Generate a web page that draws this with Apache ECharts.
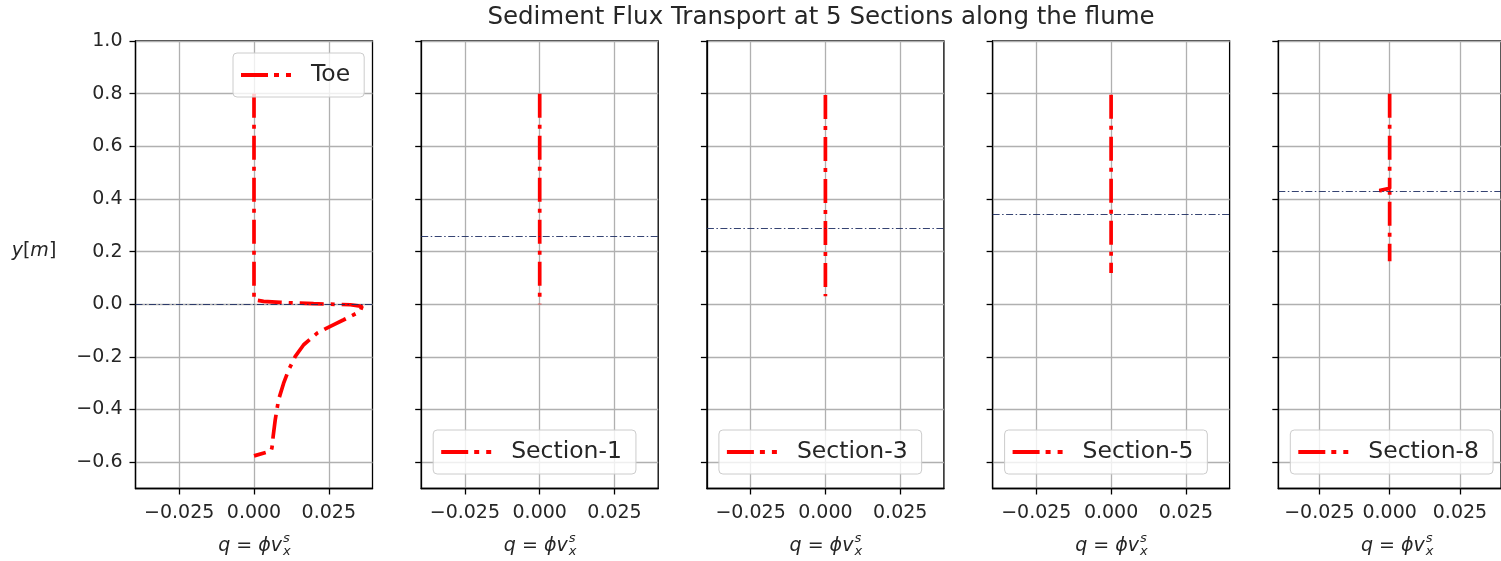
<!DOCTYPE html>
<html><head><meta charset="utf-8">
<script src="https://cdn.jsdelivr.net/npm/echarts@6/dist/echarts.min.js"></script>
<style>html,body{margin:0;padding:0;background:#fff}#c{width:1501px;height:561px}</style>
</head><body><div id="c"></div>
<script>
// ---- data ----
const panelNames = ['Toe', 'Section-1', 'Section-3', 'Section-5', 'Section-8'];
const toeQ = [0, 0, 0, 0, 0, 0.0032, 0.0088, 0.0199, 0.0322, 0.0361, 0.0355, 0.030, 0.0255, 0.0211, 0.0166, 0.0138, 0.0116, 0.0099, 0.0082, 0.0071, 0.0064, 0.0060, 0.0057, 0];
const toeY = [0.8, 0.6, 0.4, 0.2, 0.017, 0.011, 0.007, 0.002, -0.002, -0.008, -0.027, -0.059, -0.084, -0.11, -0.154, -0.198, -0.249, -0.30, -0.363, -0.439, -0.502, -0.545, -0.557, -0.576];
const sec1Q = [0, 0, 0, 0, 0];
const sec1Y = [0.8, 0.6, 0.4, 0.2, 0.0];
const sec3Q = [0, 0, 0, 0, 0];
const sec3Y = [0.795, 0.6, 0.4, 0.2, 0.03];
const sec5Q = [0, 0, 0, 0, 0];
const sec5Y = [0.796, 0.6, 0.4, 0.2, 0.119];
const sec8Q = [0, 0, -0.0037, 0, 0];
const sec8Y = [0.8, 0.44, 0.432, 0.428, 0.163];
const levelY = [-0.003, 0.258, 0.292, 0.340, 0.426];
const xTickValues = [-0.025, 0, 0.025];
const xTickLabels = ['\u22120.025', '0.000', '0.025'];
const yTickValues = [-0.6, -0.4, -0.2, 0, 0.2, 0.4, 0.6, 0.8, 1.0];
const yTickLabels = ['\u22120.6', '\u22120.4', '\u22120.2', '0.0', '0.2', '0.4', '0.6', '0.8', '1.0'];
const titleText = 'Sediment Flux Transport at 5 Sections along the flume';

const Qs = [toeQ, sec1Q, sec3Q, sec5Q, sec8Q];
const Ys = [toeY, sec1Y, sec3Y, sec5Y, sec8Y];

// ---- layout ----
const FONT = 'DejaVu Sans';
const GL = 135.5, GSTEP = 285.7, GW = 237, GT = 41, GH = 447.5;
const XMIN = -0.0396, XMAX = 0.0396, YMIN = -0.7, YMAX = 1.0;

function lab(values, labels) {
  return v => { const k = values.findIndex(t => Math.abs(t - v) < 1e-9); return k >= 0 ? labels[k] : ''; };
}
const legendIcon = 'path://M0 0H27V4H0Z M33 0H38V4H33Z M45 0H50V4H45Z';

const grids = [], xAxes = [], yAxes = [], series = [], legends = [], graphics = [];
for (let i = 0; i < 5; i++) {
  const left = GL + i * GSTEP;
  grids.push({ left: left, top: GT, width: GW, height: GH, show: true, borderColor: '#000', borderWidth: 1.3, backgroundColor: 'transparent', containLabel: false });
  xAxes.push({
    type: 'value', gridIndex: i, min: XMIN, max: XMAX,
    axisLine: { show: true, onZero: false, lineStyle: { color: '#000', width: 1.3 } },
    axisTick: { show: true, customValues: xTickValues, length: 6, lineStyle: { color: '#000', width: 1.3 } },
    axisLabel: { show: true, customValues: xTickValues, formatter: lab(xTickValues, xTickLabels), margin: 15, fontFamily: FONT, fontSize: 19, color: '#262626' },
    splitLine: { show: true, lineStyle: { color: '#b0b0b0', width: 1.3 } }
  });
  yAxes.push({
    type: 'value', gridIndex: i, min: YMIN, max: YMAX,
    axisLine: { show: true, onZero: false, lineStyle: { color: '#000', width: 1.3 } },
    axisTick: { show: true, customValues: yTickValues, length: 6, lineStyle: { color: '#000', width: 1.3 } },
    axisLabel: { show: i === 0, customValues: yTickValues, formatter: lab(yTickValues, yTickLabels), margin: 13, fontFamily: FONT, fontSize: 19, color: '#262626' },
    splitLine: { show: true, lineStyle: { color: '#b0b0b0', width: 1.3 } }
  });
  series.push({
    type: 'line', name: panelNames[i], xAxisIndex: i, yAxisIndex: i,
    data: Qs[i].map((q, k) => [q, Ys[i][k]]),
    symbol: 'none', z: 3, animation: false,
    itemStyle: { color: '#ff0000' },
    lineStyle: { color: '#ff0000', width: 3.7, type: [24, 7, 4, 7], cap: 'butt' },
    markLine: {
      silent: true, symbol: ['none', 'none'], label: { show: false }, animation: false,
      lineStyle: { color: '#1f2f63', width: 1.2, type: [7, 2.5, 1.5, 2.5], opacity: 0.9 },
      data: [{ yAxis: levelY[i] }]
    }
  });
  legends.push({
    data: [panelNames[i]], selectedMode: false, orient: 'horizontal',
    left: i === 0 ? 233 : left + 12, top: i === 0 ? 53 : 430,
    icon: legendIcon, itemWidth: 50, itemHeight: 4,
    itemStyle: { color: '#ff0000', borderWidth: 0 },
    padding: [8, 14, 8, 8],
    backgroundColor: 'rgba(255,255,255,0.8)', borderColor: '#cccccc', borderWidth: 1, borderRadius: 4,
    textStyle: { fontFamily: FONT, fontSize: 23.5, color: '#262626', padding: [0, 0, 0, 15], lineHeight: 28 }
  });
  const cx = left + GW / 2;
  graphics.push({
    type: 'group', x: cx, y: 546, children: [
      { type: 'text', x: 28, y: 0, style: { text: '{i|q}{n| = }{i|\u03D5v}', align: 'right', verticalAlign: 'middle',
        rich: { i: { fontFamily: FONT, fontStyle: 'italic', fontSize: 19, fill: '#262626' }, n: { fontFamily: FONT, fontSize: 19, fill: '#262626' } } } },
      { type: 'text', x: 29, y: -7, style: { text: 's', align: 'left', verticalAlign: 'middle', fontFamily: FONT, fontStyle: 'italic', fontSize: 13, fill: '#262626' } },
      { type: 'text', x: 29, y: 6, style: { text: 'x', align: 'left', verticalAlign: 'middle', fontFamily: FONT, fontStyle: 'italic', fontSize: 13, fill: '#262626' } }
    ]
  });
}
graphics.push({ type: 'text', x: 821, y: 18, style: { text: titleText, align: 'center', verticalAlign: 'middle', fontFamily: FONT, fontSize: 24.5, fill: '#262626' } });
graphics.push({ type: 'text', x: 34, y: 251, style: { text: '{i|y}{n|[}{i|m}{n|]}', align: 'center', verticalAlign: 'middle',
  rich: { i: { fontFamily: FONT, fontStyle: 'italic', fontSize: 19, fill: '#262626' }, n: { fontFamily: FONT, fontSize: 19, fill: '#262626' } } } });

const chart = echarts.init(document.getElementById('c'), null, { renderer: 'canvas' });
chart.setOption({
  animation: false, backgroundColor: '#fff',
  grid: grids, xAxis: xAxes, yAxis: yAxes, series: series, legend: legends, graphic: graphics
});
</script></body></html>
